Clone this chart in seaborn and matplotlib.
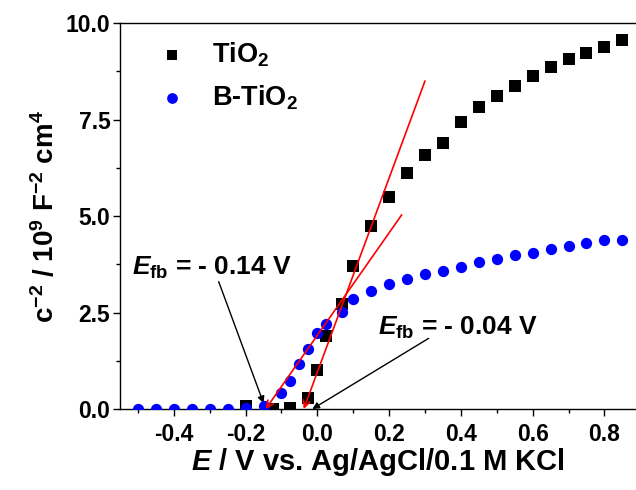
import matplotlib
matplotlib.use("Agg")
import matplotlib.pyplot as plt
import seaborn as sns
import pandas as pd

# Mott-Schottky data (E vs Ag/AgCl, c^-2 in 1e9 F^-2 cm^4)
tio2_E = [-0.2, -0.125, -0.075, -0.025, 0.0, 0.025, 0.07, 0.1, 0.15, 0.2, 0.25,
          0.3, 0.35, 0.4, 0.45, 0.5, 0.55, 0.6, 0.65, 0.7, 0.75, 0.8, 0.85]
tio2_c = [0.08, 0.0, 0.02, 0.29, 1.01, 1.89, 2.72, 3.71, 4.75, 5.49, 6.12,
          6.58, 6.90, 7.43, 7.82, 8.11, 8.38, 8.63, 8.87, 9.06, 9.23, 9.39, 9.55]

btio2_E = [-0.5, -0.45, -0.4, -0.35, -0.3, -0.25, -0.2, -0.15, -0.1, -0.075,
           -0.05, -0.025, 0.0, 0.025, 0.07, 0.1, 0.15, 0.2, 0.25, 0.3, 0.35,
           0.4, 0.45, 0.5, 0.55, 0.6, 0.65, 0.7, 0.75, 0.8, 0.85]
btio2_c = [0.0, 0.0, 0.0, 0.0, 0.0, 0.0, 0.02, 0.08, 0.41, 0.73,
           1.16, 1.56, 1.98, 2.20, 2.52, 2.85, 3.06, 3.23, 3.37, 3.50, 3.58,
           3.69, 3.80, 3.88, 3.99, 4.05, 4.14, 4.23, 4.31, 4.38, 4.38]

# linear fits: (upper end, x-intercept)
fit_tio2_E = [0.30, -0.038]
fit_tio2_c = [8.5, 0.0]
fit_btio2_E = [0.235, -0.144]
fit_btio2_c = [5.03, 0.0]

sns.set_style("ticks")
plt.rcParams['font.family'] = ['Liberation Sans', 'DejaVu Sans']
plt.rcParams['font.weight'] = 'bold'
plt.rcParams['mathtext.fontset'] = 'custom'
plt.rcParams['mathtext.rm'] = 'Liberation Sans:bold'
plt.rcParams['mathtext.bf'] = 'Liberation Sans:bold'
plt.rcParams['mathtext.it'] = 'Liberation Sans:bold:italic'
for key in ['text.color', 'axes.labelcolor', 'xtick.color', 'ytick.color',
            'axes.edgecolor']:
    plt.rcParams[key] = 'black'

df_a = pd.DataFrame({'E': tio2_E, 'c': tio2_c})
df_b = pd.DataFrame({'E': btio2_E, 'c': btio2_c})

fig = plt.figure(figsize=(6.36, 4.9), dpi=100)
ax = fig.add_axes([0.1887, 0.1653, 0.8113, 0.7877])

sns.scatterplot(data=df_a, x='E', y='c', marker='s', color='black', s=66,
                linewidth=0, label='TiO$_2$', ax=ax, zorder=3)
sns.scatterplot(data=df_b, x='E', y='c', marker='o', color='#0000ff', s=66,
                linewidth=0, label='B-TiO$_2$', ax=ax, zorder=4)

# fit lines drawn as red arrows ending at the x-intercept
for fe, fc in [(fit_tio2_E, fit_tio2_c), (fit_btio2_E, fit_btio2_c)]:
    ax.annotate('', xy=(fe[1], fc[1]), xytext=(fe[0], fc[0]),
                arrowprops=dict(arrowstyle='->', color='red', lw=1.2,
                                mutation_scale=12, shrinkA=0, shrinkB=0),
                zorder=5)

# flat band labels with black arrows
ax.text(-0.517, 3.47, r'$E_{\mathrm{fb}}$ = - 0.14 V', fontsize=19,
        fontweight='bold', ha='left', va='baseline')
ax.annotate('', xy=(-0.15, 0.15), xytext=(-0.275, 3.30),
            arrowprops=dict(arrowstyle='-|>', color='black', lw=1.0,
                            mutation_scale=10, shrinkA=0, shrinkB=0))
ax.text(0.17, 1.92, r'$E_{\mathrm{fb}}$ = - 0.04 V', fontsize=19,
        fontweight='bold', ha='left', va='baseline')
ax.annotate('', xy=(-0.014, 0.0), xytext=(0.31, 1.83),
            arrowprops=dict(arrowstyle='-|>', color='black', lw=1.0,
                            mutation_scale=10, shrinkA=0, shrinkB=0))

ax.set_xlim(-0.55, 0.888)
ax.set_ylim(0, 10)
ax.set_xticks([-0.4, -0.2, 0.0, 0.2, 0.4, 0.6, 0.8])
ax.set_xticklabels(['-0.4', '-0.2', '0.0', '0.2', '0.4', '0.6', '0.8'])
ax.set_xticks([-0.5, -0.3, -0.1, 0.1, 0.3, 0.5, 0.7], minor=True)
ax.set_yticks([0, 2.5, 5.0, 7.5, 10.0])
ax.set_yticklabels(['0.0', '2.5', '5.0', '7.5', '10.0'])
ax.set_yticks([1.25, 3.75, 6.25, 8.75], minor=True)
ax.tick_params(axis='both', which='major', direction='out', length=5, width=1.0,
               labelsize=16.5, pad=2)
ax.tick_params(axis='both', which='minor', direction='out', length=3, width=1.0)
ax.tick_params(axis='x', which='major', pad=5)

for sp in ['left', 'top', 'bottom']:
    ax.spines[sp].set_linewidth(1.0)
ax.spines['right'].set_visible(False)

ax.set_xlabel(r'$E$ / V vs. Ag/AgCl/0.1 M KCl', fontsize=21, fontweight='bold',
              labelpad=0)
ax.set_ylabel(r'c$^{-2}$ / 10$^{9}$ F$^{-2}$ cm$^{4}$', fontsize=20,
              fontweight='bold', labelpad=4)

leg = ax.legend(loc='upper left', frameon=False, fontsize=19.5, handletextpad=0.45,
                borderaxespad=0.3, labelspacing=0.55, markerscale=0.95,
                bbox_to_anchor=(0.012, 1.005))

fig.savefig('out.png', dpi=100)
